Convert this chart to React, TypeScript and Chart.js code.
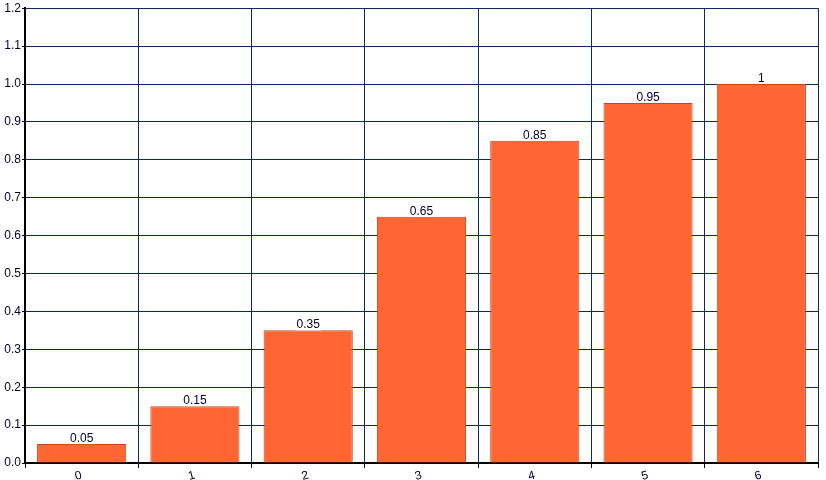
import React, { useEffect, useRef } from "react";
import { Chart, registerables } from "chart.js";

Chart.register(...registerables);

const categories = ["0", "1", "2", "3", "4", "5", "6"];
const values = [0.05, 0.15, 0.35, 0.65, 0.85, 0.95, 1];
const valueLabels = ["0.05", "0.15", "0.35", "0.65", "0.85", "0.95", "1"];

const FONT = "'Liberation Sans', Arial, sans-serif";
const GRID = "#0b2a5c";

const labelPlugin = {
  id: "valueLabels",
  afterDatasetsDraw(chart: any) {
    const ctx = chart.ctx;
    const meta = chart.getDatasetMeta(0);
    ctx.save();
    ctx.font = `12px ${FONT}`;
    ctx.textAlign = "center";
    ctx.textBaseline = "alphabetic";
    meta.data.forEach((bar: any, i: number) => {
      const t = valueLabels[i];
      const w = ctx.measureText(t).width;
      ctx.fillStyle = "#ffffff";
      ctx.fillRect(bar.x - w / 2 - 2, bar.y - 13, w + 4, 13);
      ctx.fillStyle = "#000033";
      ctx.fillText(t, bar.x, bar.y - 2);
    });
    ctx.restore();
  },
};

export default function App() {
  const ref = useRef<HTMLCanvasElement>(null);
  useEffect(() => {
    document.body.style.margin = "0";
    const chart = new Chart(ref.current!, {
      type: "bar",
      data: {
        labels: categories,
        datasets: [
          {
            data: values,
            backgroundColor: "#ff6633",
            borderColor: "#c04a1e",
            borderWidth: 1,
            categoryPercentage: 0.787,
            barPercentage: 1,
          },
        ],
      },
      options: {
        animation: false,
        responsive: false,
        layout: { padding: { top: 7, right: 8, left: 0, bottom: 0 } },
        plugins: { legend: { display: false }, tooltip: { enabled: false } },
        scales: {
          x: {
            grid: {
              offset: true,
              color: GRID,
              lineWidth: 1,
              drawTicks: true,
              tickLength: 5,
              tickColor: "#000000",
            },
            border: { display: true, color: "#000000", width: 2 },
            ticks: {
              color: "#000033",
              font: { family: FONT, size: 12 },
              minRotation: 15,
              maxRotation: 15,
              padding: 0,
            },
            afterFit(scale: any) {
              scale.height = 17;
            },
          },
          y: {
            min: 0,
            max: 1.2,
            grid: {
              color: GRID,
              lineWidth: 1,
              drawTicks: true,
              tickLength: 3,
              tickColor: "#000000",
            },
            border: { display: true, color: "#000000", width: 2 },
            ticks: {
              stepSize: 0.1,
              color: "#000033",
              font: { family: FONT, size: 12 },
              padding: 1,
              callback: (v: any) => Number(v).toFixed(1),
            },
            afterFit(scale: any) {
              scale.width = 25;
            },
          },
        },
      },
      plugins: [labelPlugin],
    });
    return () => chart.destroy();
  }, []);
  return <canvas ref={ref} width={826} height={480} style={{ display: "block" }} />;
}
